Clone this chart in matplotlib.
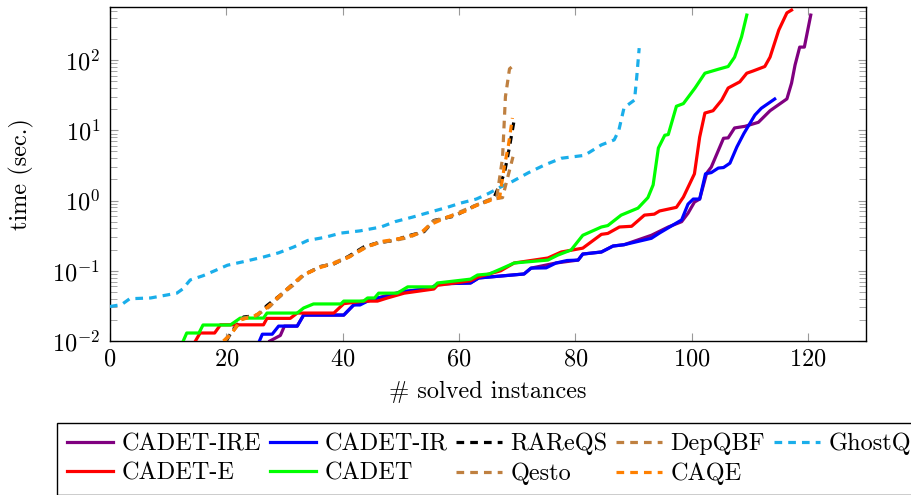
import matplotlib.pyplot as plt
from matplotlib.ticker import LogLocator, NullFormatter

plt.rcParams['font.family'] = 'serif'
plt.rcParams['font.serif'] = ['cmr10', 'DejaVu Serif']
plt.rcParams['mathtext.fontset'] = 'cm'
plt.rcParams['axes.formatter.use_mathtext'] = True

# solved-instance curves
ire_x = [27.5, 29.3, 30, 32.2, 33.3, 40.2, 41.9, 44.3, 46, 50, 55.2, 56.3, 62, 63.4, 71.2, 72.4,
         76.7, 80.5, 81.3, 84.5, 86.5, 88.4, 93.1, 96, 98.3, 99.4, 100.5, 101.4, 102.6, 103.4,
         105.5, 106.3, 107.4, 109.2, 111.5, 113.5, 116.4, 117.2, 117.8, 118.6, 119.4, 120.5]
ire_y = [0.01, 0.012, 0.0163, 0.0163, 0.0234, 0.0234, 0.0326, 0.037, 0.041, 0.05, 0.056, 0.065,
         0.067, 0.079, 0.09, 0.109, 0.129, 0.142, 0.173, 0.185, 0.225, 0.235, 0.32, 0.42, 0.5,
         0.66, 0.95, 1.05, 2.45, 3, 7.7, 7.8, 10.8, 11.4, 13, 19, 28, 47, 85, 153, 153, 437]

ir_x = [25.7, 26.2, 27.9, 29, 32.2, 33.3, 40.2, 41.9, 43, 44.3, 46, 48, 50, 55.2, 56.3, 62, 63.4,
        71.2, 72.4, 75, 76.7, 78.6, 80.5, 81.3, 84.5, 86.5, 88.4, 93.1, 94.5, 98.3, 99.4, 100.3,
        101.4, 102.4, 103.4, 104.6, 105.5, 106.6, 107.8, 109, 110.9, 112, 114.3]
ir_y = [0.01, 0.0125, 0.0125, 0.0163, 0.0163, 0.0234, 0.0234, 0.0326, 0.0326, 0.037, 0.041,
        0.043, 0.05, 0.056, 0.065, 0.067, 0.079, 0.09, 0.109, 0.11, 0.129, 0.14, 0.142, 0.173,
        0.185, 0.225, 0.235, 0.29, 0.345, 0.53, 0.89, 1.05, 1.05, 2.4, 2.5, 2.9, 2.95, 3.4, 5.8,
        9, 16.5, 20.6, 27.9]

rareqs_x = [20, 21, 23, 25.3, 27, 29.3, 31, 33.3, 36.2, 38.5, 41, 43.7, 46, 48.9, 51, 54, 55.7,
            59.2, 62.6, 66, 67.8, 68.7, 69.5]
rareqs_y = [0.01, 0.014, 0.022, 0.023, 0.032, 0.045, 0.06, 0.087, 0.115, 0.125, 0.16, 0.22,
            0.25, 0.27, 0.31, 0.36, 0.52, 0.6, 0.83, 1.08, 2.4, 5.8, 14]

depqbf_x = [19.8, 21.5, 23, 25.5, 27.5, 29.5, 31.5, 33.5, 36, 38.5, 41.5, 44, 46.5, 49, 51.5,
            54, 55.5, 58.5, 62, 65.5, 66.5, 67.5, 68, 68.7, 69.5]
depqbf_y = [0.01, 0.015, 0.021, 0.024, 0.031, 0.046, 0.062, 0.09, 0.112, 0.13, 0.165, 0.215,
            0.255, 0.27, 0.3, 0.37, 0.5, 0.6, 0.8, 1.05, 1.1, 4, 30, 75, 85]

ghostq_x = [0, 2, 3.4, 7, 11.5, 12.5, 13.8, 16, 18, 20.2, 23, 26.4, 29, 31.6, 34, 37, 39.7, 43,
            46.6, 49, 52, 55.2, 58, 60.3, 63, 65, 67.2, 69, 72, 74.7, 77.6, 81.6, 84.5, 86.7,
            87.5, 88.4, 90.2, 90.6, 91]
ghostq_y = [0.031, 0.033, 0.04, 0.041, 0.048, 0.055, 0.074, 0.085, 0.1, 0.12, 0.135, 0.157,
            0.18, 0.218, 0.27, 0.3, 0.344, 0.37, 0.42, 0.5, 0.58, 0.69, 0.8, 0.92, 1.05, 1.25,
            1.56, 1.83, 2.5, 3.2, 4.0, 4.4, 6.2, 7.3, 10, 21, 27, 60, 148]

cadet_e_x = [14.7, 15.5, 18, 19, 26.4, 27, 31, 32.2, 38.5, 40.2, 43.6, 46, 47.7, 50.6, 55.7,
             56.3, 62, 63.2, 67.2, 69.5, 75.3, 77.6, 81.3, 84.5, 85.6, 87.6, 89.7, 91.9, 93.6,
             94.5, 97.4, 98.6, 100.5, 101.4, 102.3, 103.7, 105.2, 106.3, 108.3, 109.5, 110.6,
             112.6, 113.5, 115, 116.4, 117.2]
cadet_e_y = [0.01, 0.013, 0.013, 0.017, 0.017, 0.021, 0.021, 0.025, 0.025, 0.034, 0.037, 0.037,
             0.041, 0.048, 0.055, 0.062, 0.072, 0.081, 0.1, 0.129, 0.152, 0.185, 0.21, 0.33,
             0.34, 0.42, 0.43, 0.62, 0.64, 0.71, 0.8, 1.12, 2.4, 8, 17.6, 19, 27, 40, 49, 65,
             70, 81, 110, 267, 470, 515]

cadet_x = [12.6, 13.2, 15.3, 16, 20.7, 22.4, 26.4, 27, 32.2, 33.3, 35, 39.7, 40.2, 43.6, 44.3,
           45.5, 46.2, 49.4, 51.2, 55.7, 56.3, 62, 63.2, 65.2, 67.2, 69.5, 75.3, 77, 79.3, 81.3,
           84.5, 85.6, 87.9, 90.8, 92.5, 93.4, 94.3, 95.4, 96, 97.4, 98.6, 100.6, 102.3, 104.6,
           106.3, 107.4, 108.6, 109.5]
cadet_y = [0.01, 0.013, 0.013, 0.0169, 0.0169, 0.0212, 0.0212, 0.025, 0.025, 0.0295, 0.0337,
           0.0337, 0.037, 0.037, 0.041, 0.041, 0.048, 0.048, 0.059, 0.059, 0.067, 0.076, 0.087,
           0.09, 0.106, 0.129, 0.142, 0.167, 0.198, 0.32, 0.42, 0.44, 0.62, 0.78, 1.1, 1.67,
           5.6, 8.5, 8.7, 22, 24, 40, 65, 74, 81, 110, 214, 437]

qesto_x = [19.6, 21.2, 22.8, 25.2, 27.2, 29.4, 31.2, 33.2, 36.1, 38.6, 41.2, 43.8, 46.2, 48.8,
           51.2, 53.8, 55.6, 59, 62.5, 66, 67.5, 68.3, 69.3]
qesto_y = [0.01, 0.014, 0.021, 0.023, 0.031, 0.044, 0.062, 0.086, 0.114, 0.127, 0.158, 0.218,
           0.252, 0.272, 0.305, 0.36, 0.51, 0.6, 0.82, 1.05, 1.1, 2.0, 4.2]

caqe_x = [19.5, 21, 22.5, 25, 27, 29, 31.5, 33, 36, 38.5, 41, 44, 46.5, 49, 51, 53.5, 55, 58,
          61, 63, 66, 67, 67.8, 68.5, 69.2]
caqe_y = [0.01, 0.013, 0.02, 0.023, 0.03, 0.043, 0.065, 0.085, 0.11, 0.128, 0.155, 0.215,
          0.26, 0.28, 0.3, 0.35, 0.45, 0.58, 0.7, 0.85, 1.05, 1.1, 3, 6, 15]

series = [
    ('CADET-IRE', ire_x, ire_y, '#800080', '-'),
    ('CADET-IR', ir_x, ir_y, '#0000ff', '-'),
    ('RAReQS', rareqs_x, rareqs_y, 'black', '--'),
    ('DepQBF', depqbf_x, depqbf_y, '#bf8040', '--'),
    ('GhostQ', ghostq_x, ghostq_y, '#1aaeea', '--'),
    ('CADET-E', cadet_e_x, cadet_e_y, '#ff0000', '-'),
    ('CADET', cadet_x, cadet_y, '#00ff00', '-'),
    ('Qesto', qesto_x, qesto_y, '#bf8040', '--'),
    ('CAQE', caqe_x, caqe_y, '#ff8000', '--'),
]

FS = 17.5

fig = plt.figure(figsize=(9.11, 4.95), dpi=100)
ax = fig.add_axes([0.1207, 0.3111, 0.8299, 0.6748])

lines = {}
for i, (name, xs, ys, col, ls) in enumerate(series):
    ln, = ax.plot(xs, ys, color=col, lw=2.3, zorder=2 + i)
    if ls == '--':
        ln.set_dashes((2.4, 1.9))
    lines[name] = ln

ax.set_yscale('log')
ax.set_xlim(0, 130)
ax.set_ylim(0.01, 570)
ax.set_xticks([0, 20, 40, 60, 80, 100, 120])
ax.yaxis.set_major_locator(LogLocator(base=10, numticks=10))
ax.yaxis.set_minor_locator(LogLocator(base=10, subs=range(2, 10), numticks=20))
ax.yaxis.set_minor_formatter(NullFormatter())

ax.tick_params(which='both', direction='in', top=True, right=True, color='#999999',
               labelsize=FS, labelcolor='black')
ax.tick_params(which='major', length=6, width=0.8)
ax.tick_params(which='minor', length=5, width=0.6)
ax.tick_params(axis='x', pad=5)
ax.tick_params(axis='y', pad=7)
for sp in ax.spines.values():
    sp.set_linewidth(1.0)

ax.set_xlabel('# solved instances', fontsize=FS)
ax.set_ylabel('time (sec.)', fontsize=FS)
ax.xaxis.set_label_coords(0.5, -0.118)
ax.yaxis.set_label_coords(-0.101, 0.5)

# pgfplots fills legend row by row, matplotlib column by column
order = ['CADET-IRE', 'CADET-E', 'CADET-IR', 'CADET', 'RAReQS', 'Qesto',
         'DepQBF', 'CAQE', 'GhostQ']
leg = fig.legend([lines[n] for n in order], order, loc='upper left',
                 bbox_to_anchor=(57 / 911, 1 - 423 / 495), ncol=5, fontsize=FS,
                 frameon=True, fancybox=False, edgecolor='black', framealpha=1,
                 borderaxespad=0, handlelength=1.9, handletextpad=0.35,
                 columnspacing=0.35, labelspacing=0.3, borderpad=0.4)
leg.get_frame().set_linewidth(1.0)

fig.savefig('out.png', dpi=100)
